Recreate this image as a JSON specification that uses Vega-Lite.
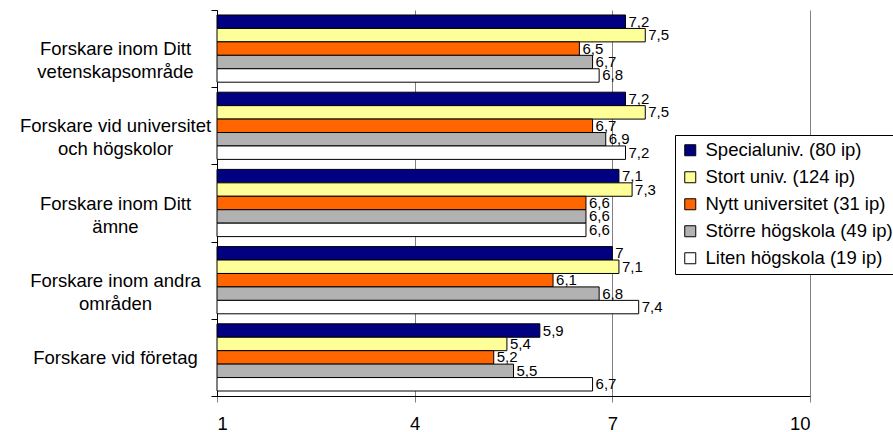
{
  "$schema": "https://vega.github.io/schema/vega-lite/v6.json",
  "width": 593,
  "height": 386,
  "autosize": {"type": "none"},
  "padding": {"left": 217, "top": 10, "right": 83, "bottom": 36},
  "background": "white",
  "config": {
    "font": "Liberation Sans",
    "view": {"stroke": null},
    "locale": {"number": {"decimal": ",", "thousands": " ", "grouping": [3], "currency": ["", " kr"]}}
  },
  "data": {
    "values": [
      {"kategori": "Forskare inom Ditt\nvetenskapsområde", "grupp": "Specialuniv. (80 ip)", "varde": 7.2},
      {"kategori": "Forskare inom Ditt\nvetenskapsområde", "grupp": "Stort univ. (124 ip)", "varde": 7.5},
      {"kategori": "Forskare inom Ditt\nvetenskapsområde", "grupp": "Nytt universitet (31 ip)", "varde": 6.5},
      {"kategori": "Forskare inom Ditt\nvetenskapsområde", "grupp": "Större högskola (49 ip)", "varde": 6.7},
      {"kategori": "Forskare inom Ditt\nvetenskapsområde", "grupp": "Liten högskola (19 ip)", "varde": 6.8},
      {"kategori": "Forskare vid universitet\noch högskolor", "grupp": "Specialuniv. (80 ip)", "varde": 7.2},
      {"kategori": "Forskare vid universitet\noch högskolor", "grupp": "Stort univ. (124 ip)", "varde": 7.5},
      {"kategori": "Forskare vid universitet\noch högskolor", "grupp": "Nytt universitet (31 ip)", "varde": 6.7},
      {"kategori": "Forskare vid universitet\noch högskolor", "grupp": "Större högskola (49 ip)", "varde": 6.9},
      {"kategori": "Forskare vid universitet\noch högskolor", "grupp": "Liten högskola (19 ip)", "varde": 7.2},
      {"kategori": "Forskare inom Ditt\nämne", "grupp": "Specialuniv. (80 ip)", "varde": 7.1},
      {"kategori": "Forskare inom Ditt\nämne", "grupp": "Stort univ. (124 ip)", "varde": 7.3},
      {"kategori": "Forskare inom Ditt\nämne", "grupp": "Nytt universitet (31 ip)", "varde": 6.6},
      {"kategori": "Forskare inom Ditt\nämne", "grupp": "Större högskola (49 ip)", "varde": 6.6},
      {"kategori": "Forskare inom Ditt\nämne", "grupp": "Liten högskola (19 ip)", "varde": 6.6},
      {"kategori": "Forskare inom andra\nområden", "grupp": "Specialuniv. (80 ip)", "varde": 7.0},
      {"kategori": "Forskare inom andra\nområden", "grupp": "Stort univ. (124 ip)", "varde": 7.1},
      {"kategori": "Forskare inom andra\nområden", "grupp": "Nytt universitet (31 ip)", "varde": 6.1},
      {"kategori": "Forskare inom andra\nområden", "grupp": "Större högskola (49 ip)", "varde": 6.8},
      {"kategori": "Forskare inom andra\nområden", "grupp": "Liten högskola (19 ip)", "varde": 7.4},
      {"kategori": "Forskare vid företag", "grupp": "Specialuniv. (80 ip)", "varde": 5.9},
      {"kategori": "Forskare vid företag", "grupp": "Stort univ. (124 ip)", "varde": 5.4},
      {"kategori": "Forskare vid företag", "grupp": "Nytt universitet (31 ip)", "varde": 5.2},
      {"kategori": "Forskare vid företag", "grupp": "Större högskola (49 ip)", "varde": 5.5},
      {"kategori": "Forskare vid företag", "grupp": "Liten högskola (19 ip)", "varde": 6.7}
    ]
  },
  "encoding": {
    "y": {
      "field": "kategori",
      "type": "nominal",
      "sort": null,
      "scale": {"paddingInner": 0, "paddingOuter": 0},
      "axis": {
        "title": null,
        "tickBand": "extent",
        "tickSize": 6,
        "tickColor": "black",
        "domainColor": "black",
        "labelAlign": "center",
        "labelBaseline": "middle",
        "labelPadding": 96,
        "labelFontSize": 18.5,
        "labelColor": "black",
        "labelLineHeight": 23,
        "labelLimit": 0,
        "labelExpr": "split(datum.label, '\\n')",
        "grid": false
      }
    },
    "yOffset": {
      "field": "grupp",
      "type": "nominal",
      "sort": ["Specialuniv. (80 ip)", "Stort univ. (124 ip)", "Nytt universitet (31 ip)", "Större högskola (49 ip)", "Liten högskola (19 ip)"],
      "scale": {"paddingInner": 0, "paddingOuter": 0.372}
    },
    "x": {
      "field": "varde",
      "type": "quantitative",
      "scale": {"domain": [1, 10], "nice": false, "zero": false},
      "axis": {
        "title": null,
        "values": [1, 4, 7, 10],
        "grid": true,
        "gridColor": "#808080",
        "gridWidth": 1,
        "gridOpacity": 1,
        "tickSize": 6,
        "tickColor": "#808080",
        "domainColor": "black",
        "labelFontSize": 18.5,
        "labelColor": "black",
        "labelPadding": 12
      }
    }
  },
  "layer": [
    {
      "mark": {"type": "bar", "stroke": "black", "strokeWidth": 1},
      "encoding": {
        "x2": {"datum": 1},
        "color": {
          "field": "grupp",
          "type": "nominal",
          "sort": ["Specialuniv. (80 ip)", "Stort univ. (124 ip)", "Nytt universitet (31 ip)", "Större högskola (49 ip)", "Liten högskola (19 ip)"],
          "scale": {
            "domain": ["Specialuniv. (80 ip)", "Stort univ. (124 ip)", "Nytt universitet (31 ip)", "Större högskola (49 ip)", "Liten högskola (19 ip)"],
            "range": ["#000080", "#FFFF99", "#FF6600", "#B2B2B2", "#FFFFFF"]
          },
          "legend": {
            "title": null,
            "orient": "none",
            "legendX": 458,
            "legendY": 125,
            "padding": 6,
            "strokeColor": "black",
            "fillColor": "white",
            "symbolType": "square",
            "symbolSize": 121,
            "symbolStrokeColor": "black",
            "symbolStrokeWidth": 1,
            "symbolOpacity": 1,
            "labelFontSize": 18.5,
            "labelColor": "black",
            "labelOffset": 6,
            "rowPadding": 8,
            "labelLimit": 0
          }
        }
      }
    },
    {
      "mark": {"type": "text", "align": "left", "baseline": "middle", "dx": 3, "fontSize": 15, "color": "black"},
      "encoding": {
        "text": {"field": "varde", "type": "quantitative", "format": ".1~f"}
      }
    }
  ]
}
